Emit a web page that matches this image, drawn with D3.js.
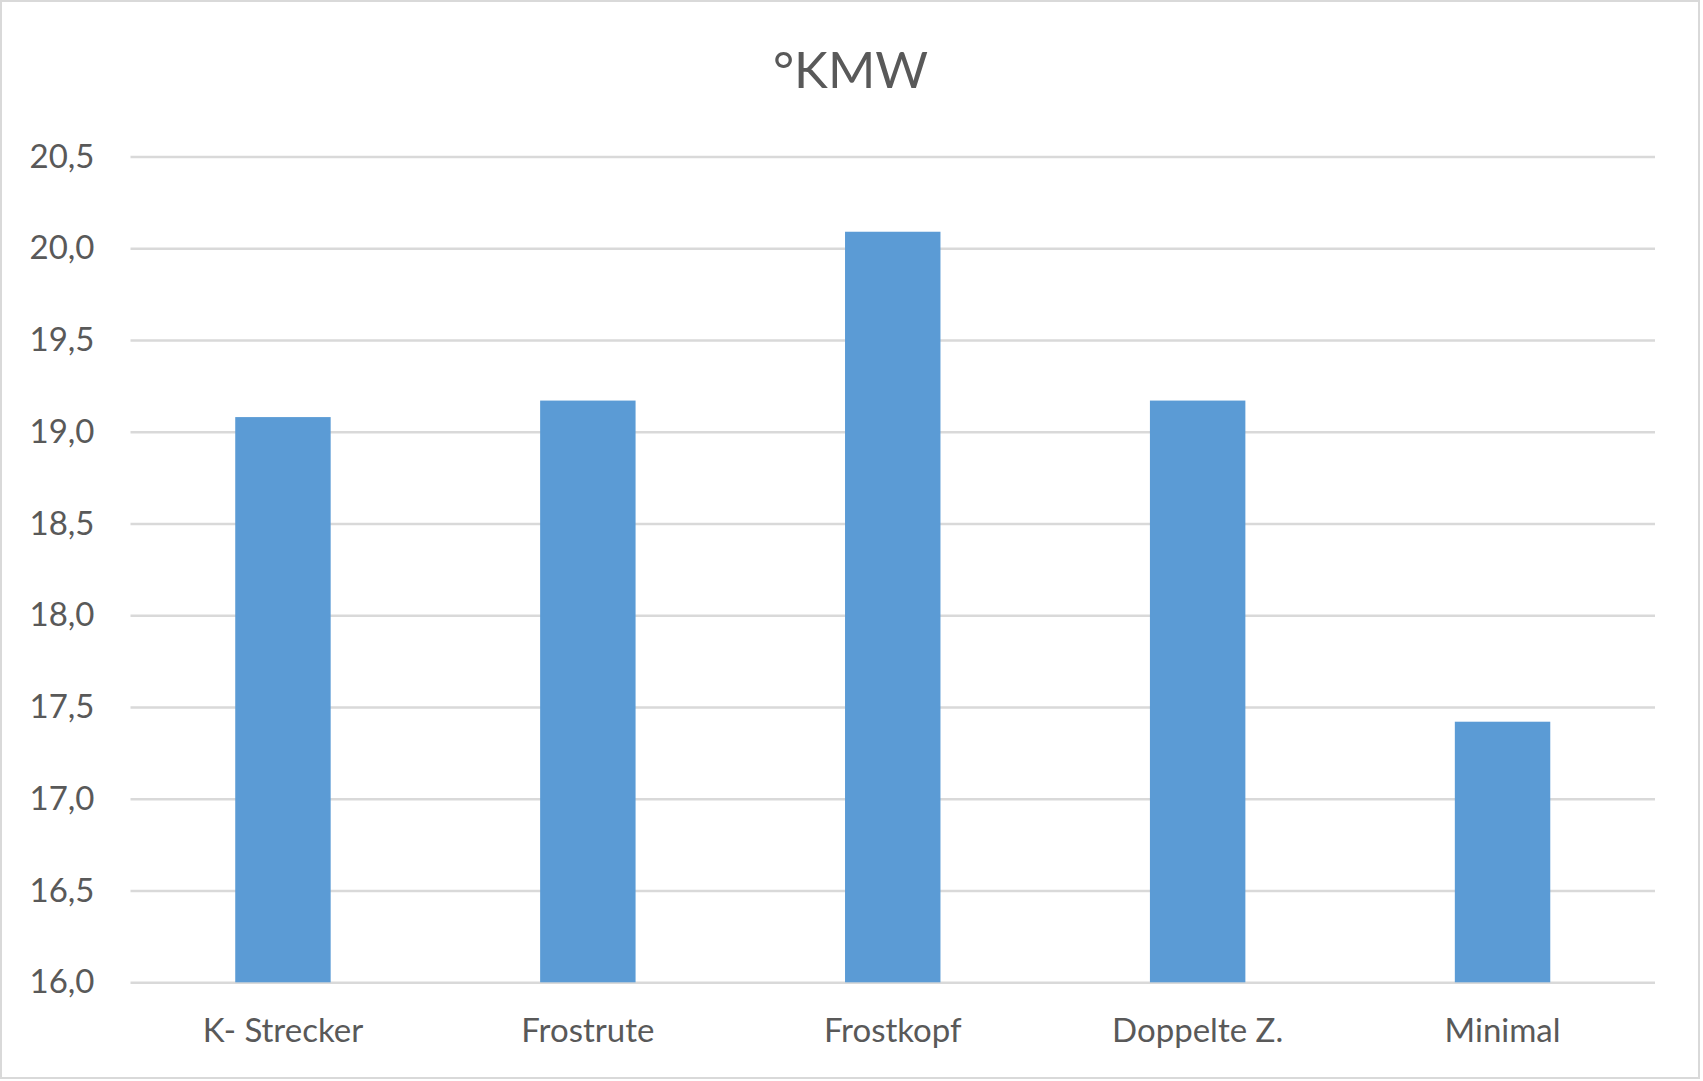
<!DOCTYPE html>
<html>
<head>
<meta charset="utf-8">
<script src="https://cdn.jsdelivr.net/npm/d3@7"></script>
<style>
html,body{margin:0;padding:0;background:#fff;}
svg{display:block;}
</style>
</head>
<body>
<svg id="chart" width="1703" height="1081"></svg>
<script>
const title = "°KMW";
const categories = ["K- Strecker", "Frostrute", "Frostkopf", "Doppelte Z.", "Minimal"];
const values = [19.08, 19.17, 20.09, 19.17, 17.42];
const yTicks = [16.0, 16.5, 17.0, 17.5, 18.0, 18.5, 19.0, 19.5, 20.0, 20.5];

const W = 1703, H = 1081;
const margin = {left: 130.5, right: 1703 - 1655, top: 156.5, bottom: 1081 - 982.3};
const svg = d3.select("#chart");
const font = "Lato, 'Open Sans', sans-serif";
const textColor = "#595959";

svg.append("rect").attr("x", 1).attr("y", 1).attr("width", W - 5).attr("height", H - 4)
  .attr("fill", "#fff").attr("stroke", "#d9d9d9").attr("stroke-width", 2);

const x = d3.scaleBand().domain(categories)
  .range([margin.left, W - margin.right])
  .paddingInner(0.687).paddingOuter(0.3435);
const y = d3.scaleLinear().domain([16, 20.5]).range([H - margin.bottom, margin.top]);

// gridlines
const yAxis = d3.axisLeft(y).tickValues(yTicks)
  .tickSize(-(W - margin.right - margin.left))
  .tickPadding(36)
  .tickFormat(d => d3.format(".1f")(d).replace(".", ","));
const gy = svg.append("g").attr("transform", `translate(${margin.left},0)`).call(yAxis);
gy.select(".domain").remove();
gy.selectAll(".tick line").attr("stroke", "#d9d9d9").attr("stroke-width", 2.5);
gy.selectAll(".tick text").attr("fill", textColor).attr("font-family", font)
  .attr("font-size", 33).attr("dy", "0.32em");

// bars
svg.append("g").selectAll("rect").data(values).join("rect")
  .attr("x", (d, i) => x(categories[i]))
  .attr("width", x.bandwidth())
  .attr("y", d => y(d))
  .attr("height", d => y(16) - y(d))
  .attr("fill", "#5b9bd5");

// x axis labels
const xAxis = d3.axisBottom(x).tickSize(0).tickPadding(0);
const gx = svg.append("g").attr("transform", `translate(0,${y(16)})`).call(xAxis);
gx.select(".domain").remove();
gx.selectAll(".tick text").attr("fill", textColor).attr("font-family", font)
  .attr("font-size", 33).attr("dy", null).attr("y", 59.5);

// title
svg.append("text").attr("x", (776 + 925) / 2).attr("y", 88.3)
  .attr("text-anchor", "middle").attr("fill", textColor)
  .attr("font-family", font).attr("font-size", 51).text(title);
</script>
</body>
</html>
